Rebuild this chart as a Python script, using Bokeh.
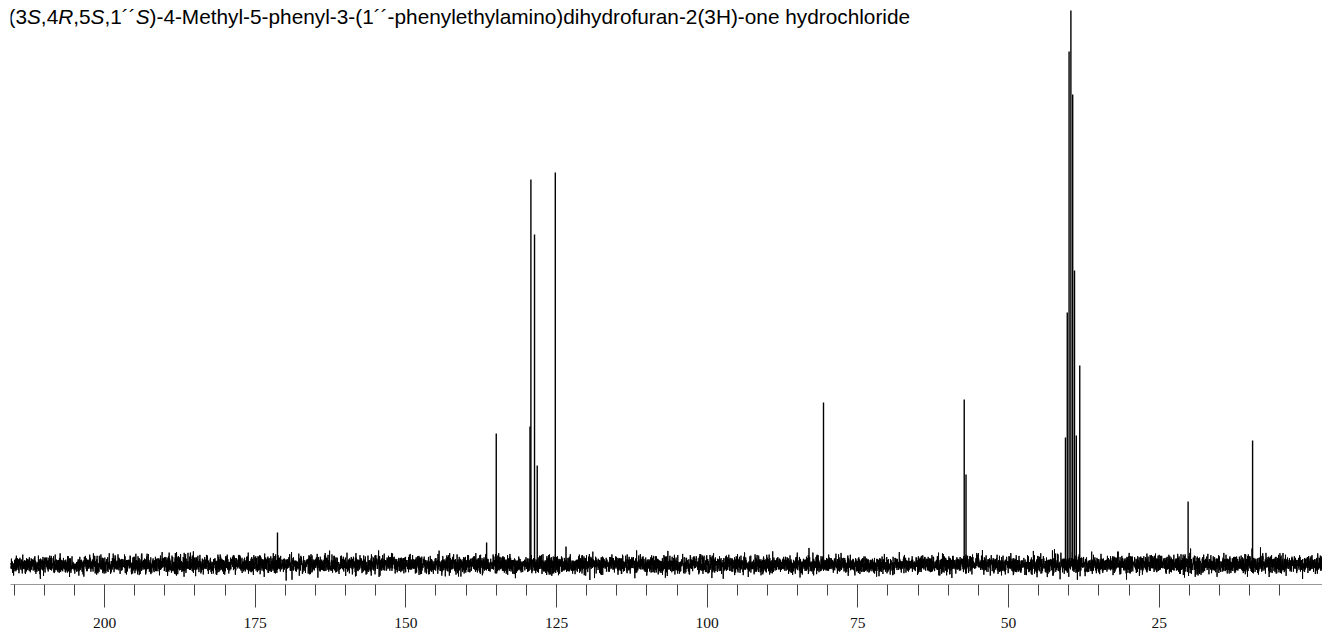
import numpy as np
from bokeh.plotting import figure
from bokeh.models import Range1d, FixedTicker, Label
from bokeh.embed import file_html
from bokeh.resources import INLINE

# ---- data (ppm, peak height in arbitrary units) ----
peak_ppm = [171.3, 136.6, 135.0, 129.4, 129.25, 128.65, 128.2, 125.2,
            80.7, 57.35, 57.05,
            40.55, 40.25, 39.95, 39.65, 39.35, 39.05, 38.75,
            38.18, 20.2, 9.5]
peak_height = [32, 22, 131, 138, 385, 330, 99, 392,
               162, 165, 90,
               127, 252, 513, 554, 470, 294, 129,
               199, 63, 124]

major_ticks = [25, 50, 75, 100, 125, 150, 175, 200]
minor_ticks = list(range(5, 216, 5))
tick_labels = {t: str(t) for t in major_ticks}

title_parts = [("(3", "normal"), ("S", "italic"), (",4", "normal"), ("R", "italic"),
               (",5", "normal"), ("S", "italic"), (",1\u00b4\u00b4", "normal"), ("S", "italic"),
               (")-4-Methyl-5-phenyl-3-(1\u00b4\u00b4-phenylethylamino)dihydrofuran-2(3H)-one hydrochloride", "normal")]

# baseline noise texture (visual only)
noise_sigma = 4.4
x_start, x_end = 215.6, -2.1
rng = np.random.default_rng(7)
xs = np.linspace(x_start, x_end, 11000)
ys = rng.normal(0, noise_sigma, xs.size)

p = figure(width=1322, height=633, frame_width=1312, frame_height=584,
           x_range=Range1d(x_start, x_end), y_range=Range1d(-20, 564),
           output_backend="svg", toolbar_location=None, y_axis_location=None,
           min_border_left=10, min_border_right=0, min_border_top=0, min_border_bottom=49)
p.outline_line_color = None
p.grid.visible = False
p.background_fill_color = "white"
p.border_fill_color = "white"

p.line(xs, ys, line_color="black", line_width=1)
p.segment(x0=peak_ppm, y0=[0] * len(peak_ppm), x1=peak_ppm, y1=peak_height,
          line_color="black", line_width=1.4)

ax = p.xaxis[0]
ax.ticker = FixedTicker(ticks=major_ticks, minor_ticks=minor_ticks)
ax.major_label_overrides = tick_labels
ax.axis_line_color = "#999999"
ax.major_tick_line_color = "#444444"
ax.minor_tick_line_color = "#444444"
ax.major_tick_in = 0
ax.major_tick_out = 23
ax.minor_tick_in = 0
ax.minor_tick_out = 11
ax.major_label_standoff = 10
ax.major_label_text_font = "Liberation Serif"
ax.major_label_text_font_size = "15.5px"
ax.major_label_text_color = "#111111"

# title with italic parts, positioned using Arial/Liberation Sans advance widths
widths = {'(': 333, ')': 333, '3': 556, 'S': 667, ',': 278, '4': 556, 'R': 722, '5': 556,
          '1': 556, '\u00b4': 333, '-': 333, 'M': 833, 'e': 556, 't': 278, 'h': 556, 'y': 500,
          'l': 222, 'p': 556, 'n': 556, 'a': 556, 'm': 833, 'i': 222, 'o': 556, 'd': 556,
          'r': 333, 'f': 278, 'u': 556, '2': 556, 'H': 722, ' ': 278, 'c': 500}
fs = 20.8
xpos = -2.0
for txt, style in title_parts:
    p.add_layout(Label(x=xpos, y=568, x_units="screen", y_units="screen", text=txt,
                       text_font="Liberation Sans", text_font_size=f"{fs}px",
                       text_font_style=style, text_baseline="alphabetic", text_align="left",
                       text_color="black"))
    xpos += sum(widths.get(c, 556) for c in txt) / 1000 * fs

open("out.html", "w").write(file_html(p, INLINE))
